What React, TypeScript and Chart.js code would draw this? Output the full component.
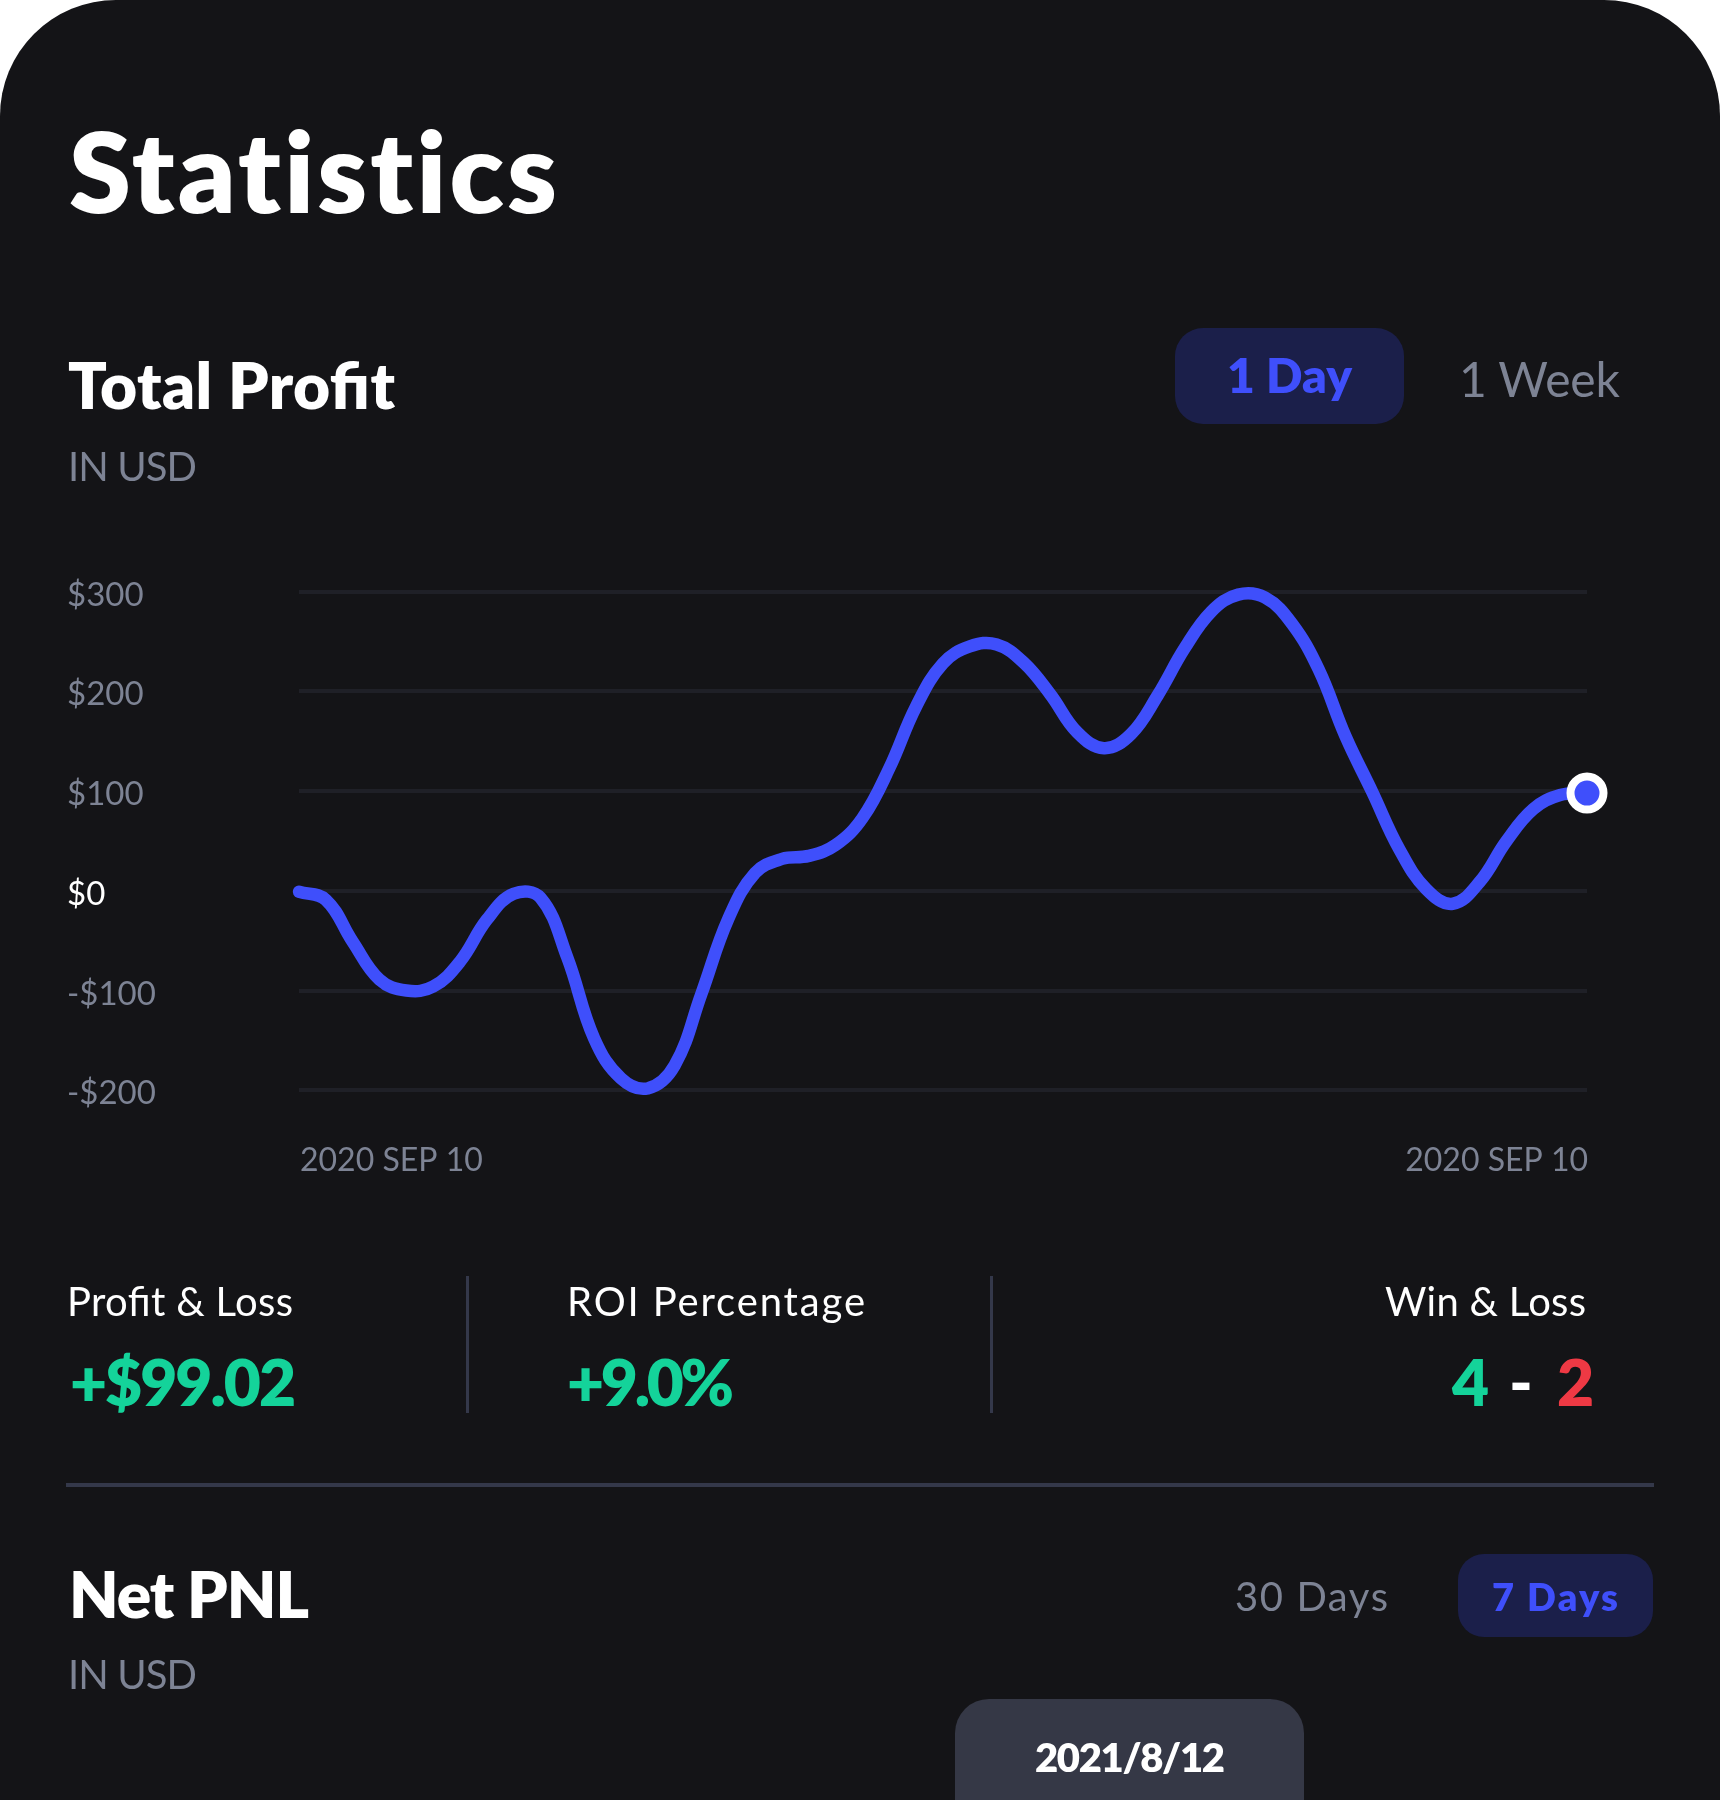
import React, { useEffect, useRef } from "react";
import { Chart, registerables } from "chart.js";

Chart.register(...registerables);

const minutes = [
  0, 30, 60, 90, 120, 150, 180, 210, 240, 270, 300, 330, 360, 390, 420, 450, 480, 510, 540, 570, 600, 630, 660, 690, 720, 750, 780, 810,
  840, 870, 900, 930, 960, 990, 1020, 1050, 1080, 1110, 1140, 1170, 1200, 1230, 1260, 1290, 1320, 1350, 1380, 1410, 1440,
];
const profit = [
  -1, -9, -51, -89, -100, -96, -71, -29, -3, -7, -67, -148, -188, -198, -175, -103, -28, 18, 32, 35, 46, 73, 123, 185, 228, 245, 247, 229,
  197, 159, 143, 157, 196, 243, 280, 297, 294, 268, 222, 155, 99, 42, 2, -13, 9, 50, 82, 96, 98,
];
const yTicks = [300, 200, 100, 0, -100, -200];
const xTickLabels = ["2020 SEP 10", "2020 SEP 10"];

const BG = "#141417";
const GRAY = "#7d8394";
const BLUE = "#3f4ffb";
const GREEN = "#14d39a";
const RED = "#ef3944";
const FONT = "Lato";

type T = { s: string; x: number; y: number; w: number; fs: number; fw: number; c: string };
const texts: T[] = [
  { s: "Statistics", x: 69, y: 213, w: 488, fs: 112, fw: 800, c: "#fff" },
  { s: "Total Profit", x: 68, y: 409, w: 327, fs: 64, fw: 800, c: "#fff" },
  { s: "IN USD", x: 68, y: 481, w: 129, fs: 40, fw: 400, c: GRAY },
  { s: "1 Day", x: 1227, y: 393, w: 125, fs: 48, fw: 800, c: BLUE },
  { s: "1 Week", x: 1459, y: 397, w: 161, fs: 48, fw: 400, c: GRAY },
  { s: "Profit & Loss", x: 67, y: 1316, w: 226, fs: 40, fw: 400, c: "#fff" },
  { s: "+$99.02", x: 70, y: 1406, w: 226, fs: 64, fw: 800, c: GREEN },
  { s: "ROI Percentage", x: 567, y: 1316, w: 298, fs: 40, fw: 400, c: "#fff" },
  { s: "+9.0%", x: 567, y: 1406, w: 167, fs: 64, fw: 800, c: GREEN },
  { s: "Win & Loss", x: 1385, y: 1316, w: 201, fs: 40, fw: 400, c: "#fff" },
  { s: "4", x: 1452, y: 1406, w: 38, fs: 64, fw: 800, c: GREEN },
  { s: "-", x: 1509, y: 1406, w: 28, fs: 64, fw: 900, c: "#fff" },
  { s: "2", x: 1557, y: 1406, w: 33, fs: 64, fw: 800, c: RED },
  { s: "Net PNL", x: 69, y: 1618, w: 240, fs: 64, fw: 800, c: "#fff" },
  { s: "IN USD", x: 68, y: 1689, w: 129, fs: 40, fw: 400, c: GRAY },
  { s: "30 Days", x: 1235, y: 1611, w: 153, fs: 40, fw: 400, c: GRAY },
  { s: "7 Days", x: 1492, y: 1611, w: 126, fs: 38, fw: 800, c: BLUE },
  { s: "2021/8/12", x: 1035, y: 1772, w: 190, fs: 40, fw: 800, c: "#fff" },
];

type B = { x: number; y: number; w: number; h: number; r?: string; c: string };
const boxes: B[] = [
  { x: 1175, y: 328, w: 229, h: 96, r: "28px", c: "#1b1f4a" },
  { x: 1458, y: 1554, w: 195, h: 83, r: "26px", c: "#1b1f4a" },
  { x: 955, y: 1699, w: 349, h: 101, r: "34px 34px 0 0", c: "#353846" },
  { x: 466, y: 1276, w: 3, h: 137, c: "#34384a" },
  { x: 990, y: 1276, w: 3, h: 137, c: "#34384a" },
  { x: 66, y: 1483, w: 1588, h: 4, c: "#34384a" },
];

export default function App() {
  const ref = useRef<HTMLCanvasElement>(null);
  useEffect(() => {
    document.body.style.margin = "0";
    document.body.style.background = "#fff";
    const last = minutes.length - 1;
    const chart = new Chart(ref.current!, {
      type: "line",
      data: {
        datasets: [
          {
            data: minutes.map((m, i) => ({ x: m, y: profit[i] })),
            borderColor: BLUE,
            borderWidth: 12.5,
            borderCapStyle: "round",
            borderJoinStyle: "round",
            tension: 0.4,
            clip: false,
            pointRadius: (c: any) => (c.dataIndex === last ? 16.5 : 0),
            pointBackgroundColor: BLUE,
            pointBorderColor: "#fff",
            pointBorderWidth: 8,
          } as any,
        ],
      },
      options: {
        responsive: false,
        animation: false,
        events: [],
        layout: { padding: { left: 67, right: 133, top: 51.6, bottom: 0 } },
        plugins: { legend: { display: false }, tooltip: { enabled: false } },
        scales: {
          x: {
            type: "linear",
            min: 0,
            max: 1440,
            border: { display: false },
            grid: { display: false, drawTicks: false },
            afterFit: (s: any) => { s.height = 109.7; },
            afterBuildTicks: (s: any) => { s.ticks = [{ value: 0 }, { value: 1440 }]; },
            ticks: {
              autoSkip: false,
              maxRotation: 0,
              align: "inner",
              padding: 51,
              labelOffset: 1,
              color: GRAY,
              font: { family: FONT, size: 32 },
              callback: (_v: any, i: number) => xTickLabels[i],
            },
          },
          y: {
            min: -200,
            max: 300,
            border: { display: false },
            grid: { color: "#1f2027", lineWidth: 4, drawTicks: false },
            afterFit: (s: any) => { s.width = 232; },
            afterBuildTicks: (s: any) => { s.ticks = yTicks.map((value) => ({ value })); },
            ticks: {
              crossAlign: "far",
              padding: 0,
              labelOffset: 3.5,
              color: (c: any) => (c.tick.value === 0 ? "#fff" : GRAY),
              font: { family: FONT, size: 33 },
              callback: (v: any) => (v < 0 ? `-$${-v}` : `$${v}`),
            },
          },
        },
      } as any,
    });
    return () => chart.destroy();
  }, []);

  return (
    <div style={{ position: "relative", width: 1720, height: 1800, overflow: "hidden", background: "#fff" }}>
      <div style={{ position: "absolute", inset: 0, background: BG, borderRadius: "116px 116px 0 0" }} />
      {boxes.map((b, i) => (
        <div key={i} style={{ position: "absolute", left: b.x, top: b.y, width: b.w, height: b.h, borderRadius: b.r, background: b.c }} />
      ))}
      <canvas ref={ref} width={1720} height={660} style={{ position: "absolute", left: 0, top: 540, width: 1720, height: 660 }} />
      <svg width={1720} height={1800} style={{ position: "absolute", left: 0, top: 0, pointerEvents: "none" }}>
        {texts.map((t, i) => (
          <text
            key={i}
            x={t.x}
            y={t.y}
            textLength={t.w}
            lengthAdjust="spacing"
            fontFamily={FONT}
            fontSize={t.fs}
            fontWeight={t.fw}
            fill={t.c}
            style={{ fontVariantLigatures: t.s === "Statistics" ? "none" : "normal" }}
          >
            {t.s}
          </text>
        ))}
      </svg>
    </div>
  );
}
